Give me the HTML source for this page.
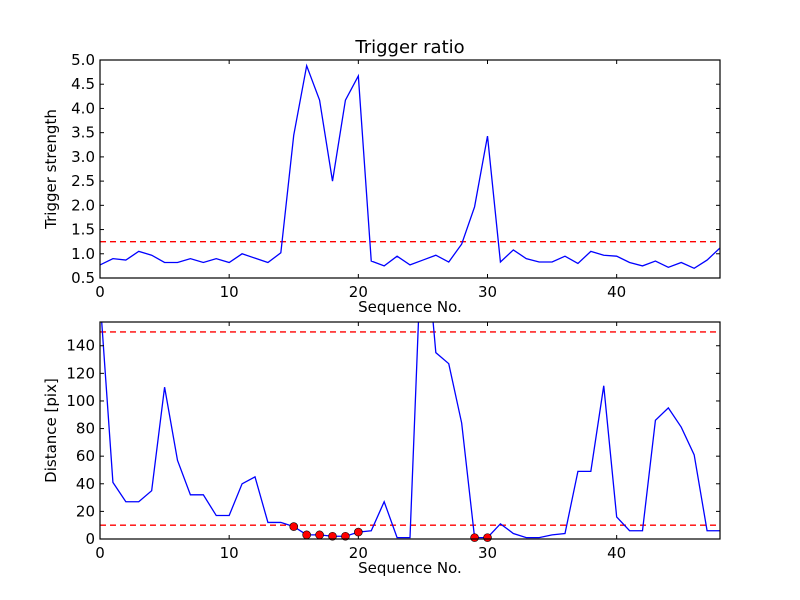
<!DOCTYPE html>
<html><head><meta charset="utf-8">
<style>
html,body{margin:0;padding:0;background:#fff;}
svg{display:block;font-family:"DejaVu Sans","Liberation Sans",sans-serif;}
</style></head>
<body>
<svg id="chart" width="800" height="600" viewBox="0 0 800 600" xmlns="http://www.w3.org/2000/svg"></svg>
<script>
const seqIdx = [0,1,2,3,4,5,6,7,8,9,10,11,12,13,14,15,16,17,18,19,20,21,22,23,24,25,26,27,28,29,30,31,32,33,34,35,36,37,38,39,40,41,42,43,44,45,46,47,48];
const triggerStrength = [0.77,0.9,0.87,1.05,0.97,0.82,0.82,0.9,0.82,0.9,0.82,1.0,0.91,0.82,1.02,3.45,4.88,4.17,2.5,4.17,4.67,0.85,0.75,0.95,0.77,0.87,0.97,0.83,1.2,1.97,3.43,0.83,1.08,0.9,0.83,0.83,0.95,0.8,1.05,0.97,0.95,0.82,0.75,0.85,0.72,0.82,0.7,0.87,1.12];
const distance = [175,41,27,27,35,110,57,32,32,17,17,40,45,12,12,9,3,3,2,2,5,6,27,1,1,240,135,127,84,1,1,11,4,1,1,3,4,49,49,111,16,6,6,86,95,81,61,6,6];
const triggerThreshold = 1.25;
const distThresholds = [150,10];
const topYTicks = [0.5,1.0,1.5,2.0,2.5,3.0,3.5,4.0,4.5,5.0];
const botYTicks = [0,20,40,60,80,100,120,140];
const xTicks = [0,10,20,30,40];

const NS="http://www.w3.org/2000/svg";
const svg=document.getElementById('chart');
function el(tag,attrs,parent){const e=document.createElementNS(NS,tag);for(const k in attrs)e.setAttribute(k,attrs[k]);(parent||svg).appendChild(e);return e;}

const L=100,R=720;
const xMin=0,xMax=48;
function xs(v){return L+(v-xMin)/(xMax-xMin)*(R-L);}

function panel(name,top,bottom,yMin,yMax,yTicks,fmt,ylabel,title){
  const g=el('g',{});
  
  
  const ys=v=>bottom-(v-yMin)/(yMax-yMin)*(bottom-top);
  const clipId=name+'-clip';
  const cp=el('clipPath',{id:clipId},g);
  el('rect',{x:L,y:top,width:R-L,height:bottom-top},cp);
  const plot=el('g',{'clip-path':'url(#'+clipId+')'},g);
  
  
  // ticks
  xTicks.forEach(t=>{
    const x=xs(t);
    const a=el('line',{x1:x,y1:bottom,x2:x,y2:bottom-4,stroke:'#000','stroke-width':1},g);
    
    
    el('line',{x1:x,y1:top,x2:x,y2:top+4,stroke:'#000','stroke-width':1},g);
    const tx=el('text',{x:x,y:bottom+19,'font-size':15,'text-anchor':'middle',fill:'#000'},g);
    
    
    tx.textContent=t;
  });
  yTicks.forEach(t=>{
    const y=ys(t);
    const a=el('line',{x1:L,y1:y,x2:L+4,y2:y,stroke:'#000','stroke-width':1},g);
    
    
    el('line',{x1:R,y1:y,x2:R-4,y2:y,stroke:'#000','stroke-width':1},g);
    const tx=el('text',{x:L-5,y:y+5,'font-size':15,'text-anchor':'end',fill:'#000'},g);
    
    
    tx.textContent=fmt(t);
  });
  const xl=el('text',{x:(L+R)/2,y:bottom+34,'font-size':15,'text-anchor':'middle',fill:'#000'},g);
  
  
  xl.textContent='Sequence No.';
  const cy=(top+bottom)/2;
  const yl=el('text',{x:0,y:0,'font-size':15,'text-anchor':'middle',fill:'#000',transform:'translate(56,'+cy+') rotate(-90)'},g);
  
  
  yl.textContent=ylabel;
  if(title){
    const tt=el('text',{x:(L+R)/2,y:top-7,'font-size':18,'text-anchor':'middle',fill:'#000'},g);
    
    
    tt.textContent=title;
  }
  return {g,plot,ys,top,bottom};
}

// top panel
const p1=panel('trigger-ratio-panel',60,278,0.5,5.0,topYTicks,v=>v.toFixed(1),'Trigger strength','Trigger ratio');
const th=el('line',{x1:L,x2:R,y1:p1.ys(triggerThreshold),y2:p1.ys(triggerThreshold),stroke:'#ff0000','stroke-width':1.3,'stroke-dasharray':'6,4'},p1.plot);


const l1=el('polyline',{fill:'none',stroke:'#0000ff','stroke-width':1.3,points:seqIdx.map((x,i)=>xs(x)+','+p1.ys(triggerStrength[i])).join(' ')},p1.plot);


el('rect',{x:L,y:60,width:R-L,height:218,fill:'none',stroke:'#000','stroke-width':1.2},p1.g);

// bottom panel
const p2=panel('distance-panel',322,539,0,157.2,botYTicks,v=>String(v),'Distance [pix]',null);
distThresholds.forEach(t=>{
  const d=el('line',{x1:L,x2:R,y1:p2.ys(t),y2:p2.ys(t),stroke:'#ff0000','stroke-width':1.3,'stroke-dasharray':'6,4'},p2.plot);
  
  
});
const l2=el('polyline',{fill:'none',stroke:'#0000ff','stroke-width':1.3,points:seqIdx.map((x,i)=>xs(x)+','+p2.ys(distance[i])).join(' ')},p2.plot);


seqIdx.forEach((x,i)=>{
  if(triggerStrength[i]>triggerThreshold){
    const c=el('circle',{cx:xs(x),cy:p2.ys(distance[i]),r:4,fill:'#ff0000',stroke:'#000','stroke-width':0.6},p2.g);
    
    
  }
});
el('rect',{x:L,y:322,width:R-L,height:217,fill:'none',stroke:'#000','stroke-width':1.2},p2.g);
</script>
</body></html>
